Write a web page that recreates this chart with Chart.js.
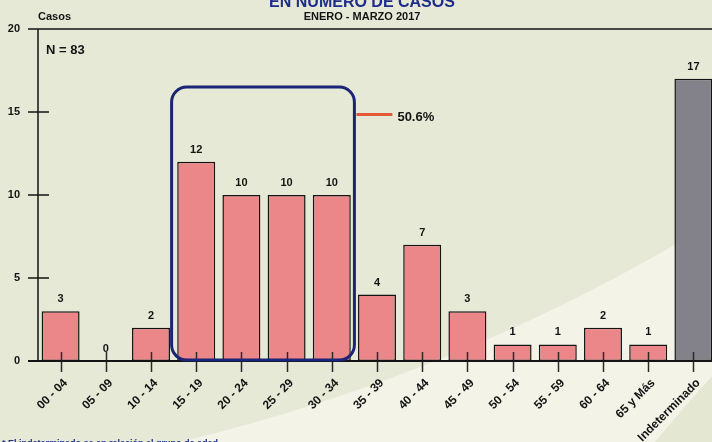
<!DOCTYPE html>
<html lang="es">
<head>
<meta charset="utf-8">
<title>Casos por grupo de edad</title>
<script src="https://cdn.jsdelivr.net/npm/chart.js@4.4.1/dist/chart.umd.min.js"></script>
<style>
  html, body { margin: 0; padding: 0; overflow: hidden; background: #E6E9D5; }
  #wrap { position: relative; width: 716px; height: 442px; }
</style>
</head>
<body>
<div id="wrap"><canvas id="grafico" width="716" height="442"></canvas></div>
<script>
// Casos por grupo de edad, enero - marzo 2017
const gruposEdad = ['00 - 04', '05 - 09', '10 - 14', '15 - 19', '20 - 24', '25 - 29', '30 - 34',
                    '35 - 39', '40 - 44', '45 - 49', '50 - 54', '55 - 59', '60 - 64', '65 y Más', 'Indeterminado'];
const casos = [3, 0, 2, 12, 10, 10, 10, 4, 7, 3, 1, 1, 2, 1, 17];
const marcasY = [0, 5, 10, 15, 20];
const gruposResaltados = ['15 - 19', '20 - 24', '25 - 29', '30 - 34'];

const titulo = 'EN NUMERO DE CASOS';
const periodo = 'ENERO - MARZO 2017';
const tituloEje = 'Casos';
const nota = '* El indeterminado se en relación al grupo de edad';

const FUENTE = "'Liberation Sans', Arial, Helvetica, sans-serif";
const TINTA = '#141414';
const ROSA = '#EB8789';
const GRIS = '#838189';

const total = casos.reduce((s, v) => s + v, 0);
const sumaResaltada = gruposResaltados.reduce((s, g) => s + casos[gruposEdad.indexOf(g)], 0);
const porcentaje = (sumaResaltada / total * 100).toFixed(1) + '%';

// Fondo beige con la franja clara curva
const fondo = {
  id: 'fondo',
  beforeDraw(chart) {
    const { ctx, width, height } = chart;
    ctx.save();
    ctx.fillStyle = '#E6E9D5';
    ctx.fillRect(0, 0, width, height);
    ctx.fillStyle = '#F3F4E7';
    ctx.beginPath();
    ctx.moveTo(180, height);
    ctx.quadraticCurveTo(470, 372, width, 220);
    ctx.lineTo(width, height);
    ctx.closePath();
    ctx.fill();
    ctx.fillStyle = '#E4E7D1';
    ctx.beginPath();
    ctx.moveTo(655, height);
    ctx.quadraticCurveTo(688, 402, width, 372);
    ctx.lineTo(width, height);
    ctx.closePath();
    ctx.fill();
    ctx.restore();
  }
};

// Ejes, marcas, valores, recuadro del grupo resaltado y textos
const anotaciones = {
  id: 'anotaciones',
  afterDatasetsDraw(chart) {
    const { ctx, chartArea: a, scales: { x, y } } = chart;
    const meta = chart.getDatasetMeta(0);
    ctx.save();

    // valores sobre las barras
    ctx.fillStyle = TINTA;
    ctx.font = 'bold 11px ' + FUENTE;
    ctx.textAlign = 'center';
    ctx.textBaseline = 'middle';
    meta.data.forEach((barra, i) => {
      ctx.fillText(String(casos[i]), barra.x, barra.y - 12);
    });

    // ejes
    const y0 = y.getPixelForValue(0);
    const yMax = y.getPixelForValue(marcasY[marcasY.length - 1]);
    ctx.strokeStyle = TINTA;
    ctx.lineWidth = 1.5;
    ctx.beginPath();
    ctx.moveTo(a.left - 10, yMax);
    ctx.lineTo(chart.width, yMax);
    ctx.moveTo(a.left, yMax);
    ctx.lineTo(a.left, y0);
    marcasY.forEach(v => {
      const py = y.getPixelForValue(v);
      ctx.moveTo(a.left - 10, py);
      ctx.lineTo(a.left + 11, py);
    });
    ctx.stroke();

    ctx.strokeStyle = '#2a2a2a';
    ctx.beginPath();
    gruposEdad.forEach((g, i) => {
      const px = Math.round(x.getPixelForValue(i)) + 0.5;
      ctx.moveTo(px, y0 - 9);
      ctx.lineTo(px, y0 + 11);
    });
    ctx.stroke();

    ctx.strokeStyle = TINTA;
    ctx.lineWidth = 2;
    ctx.beginPath();
    ctx.moveTo(a.left - 10, y0);
    ctx.lineTo(chart.width, y0);
    ctx.stroke();

    // recuadro redondeado del grupo 15 - 34
    const i0 = gruposEdad.indexOf(gruposResaltados[0]);
    const i1 = gruposEdad.indexOf(gruposResaltados[gruposResaltados.length - 1]);
    const paso = x.getPixelForValue(1) - x.getPixelForValue(0);
    const bx0 = x.getPixelForValue(i0) - paso / 2 - 2;
    const bx1 = x.getPixelForValue(i1) + paso / 2;
    const by0 = y.getPixelForValue(16.5);
    const by1 = y0 - 1;
    ctx.strokeStyle = '#1B2476';
    ctx.lineWidth = 3;
    ctx.beginPath();
    ctx.roundRect(bx0, by0, bx1 - bx0, by1 - by0, 15);
    ctx.stroke();

    // indicador del porcentaje
    const py = y.getPixelForValue(14.85);
    ctx.strokeStyle = '#E45A38';
    ctx.lineWidth = 3;
    ctx.beginPath();
    ctx.moveTo(bx1 + 2, py);
    ctx.lineTo(bx1 + 38, py);
    ctx.stroke();
    ctx.fillStyle = TINTA;
    ctx.font = 'bold 13px ' + FUENTE;
    ctx.textAlign = 'left';
    ctx.textBaseline = 'middle';
    ctx.fillText(porcentaje, bx1 + 43, py + 3);

    ctx.restore();
  },
  afterDraw(chart) {
    const { ctx, chartArea: a } = chart;
    ctx.save();
    ctx.textBaseline = 'alphabetic';

    ctx.fillStyle = '#1E2C8C';
    ctx.font = 'bold 16px ' + FUENTE;
    ctx.textAlign = 'center';
    ctx.fillText(titulo, 362, 7);

    ctx.fillStyle = TINTA;
    ctx.font = 'bold 11px ' + FUENTE;
    ctx.fillText(periodo, 362, 20);

    ctx.textAlign = 'left';
    ctx.fillText(tituloEje, a.left, 20);

    ctx.font = 'bold 13px ' + FUENTE;
    ctx.fillText('N = ' + total, a.left + 8, 54);

    ctx.fillStyle = '#1E2C8C';
    ctx.font = 'bold 9px ' + FUENTE;
    ctx.fillText(nota, 2, 446);
    ctx.restore();
  }
};

Chart.defaults.font.family = FUENTE;
Chart.defaults.font.weight = 'bold';
Chart.defaults.color = TINTA;

new Chart(document.getElementById('grafico'), {
  type: 'bar',
  data: {
    labels: gruposEdad,
    datasets: [{
      data: casos,
      backgroundColor: gruposEdad.map((g, i) => i === gruposEdad.length - 1 ? GRIS : ROSA),
      borderColor: TINTA,
      borderWidth: 1.5,
      borderSkipped: false,
      categoryPercentage: 1,
      barPercentage: 0.84
    }]
  },
  options: {
    responsive: false,
    animation: false,
    devicePixelRatio: 1,
    layout: { padding: { top: 29, left: 0, right: 0, bottom: 0 } },
    plugins: { legend: { display: false }, title: { display: false }, tooltip: { enabled: false } },
    scales: {
      x: {
        grid: { display: false, drawTicks: false },
        border: { display: false },
        ticks: {
          autoSkip: false,
          minRotation: 45,
          maxRotation: 45,
          padding: 15,
          labelOffset: 5,
          font: { size: 12, weight: 'bold' },
          color: TINTA
        },
        afterFit(scale) {
          scale.height = 81;
          scale.paddingLeft = 0;
          scale.paddingRight = 0;
        }
      },
      y: {
        min: 0,
        max: 20,
        afterBuildTicks(scale) { scale.ticks = marcasY.map(v => ({ value: v })); },
        grid: { display: false, drawTicks: false },
        border: { display: false },
        ticks: {
          padding: 18,
          font: { size: 11, weight: 'bold' },
          color: TINTA
        },
        afterFit(scale) { scale.width = 38; }
      }
    }
  },
  plugins: [fondo, anotaciones]
});
</script>
</body>
</html>
